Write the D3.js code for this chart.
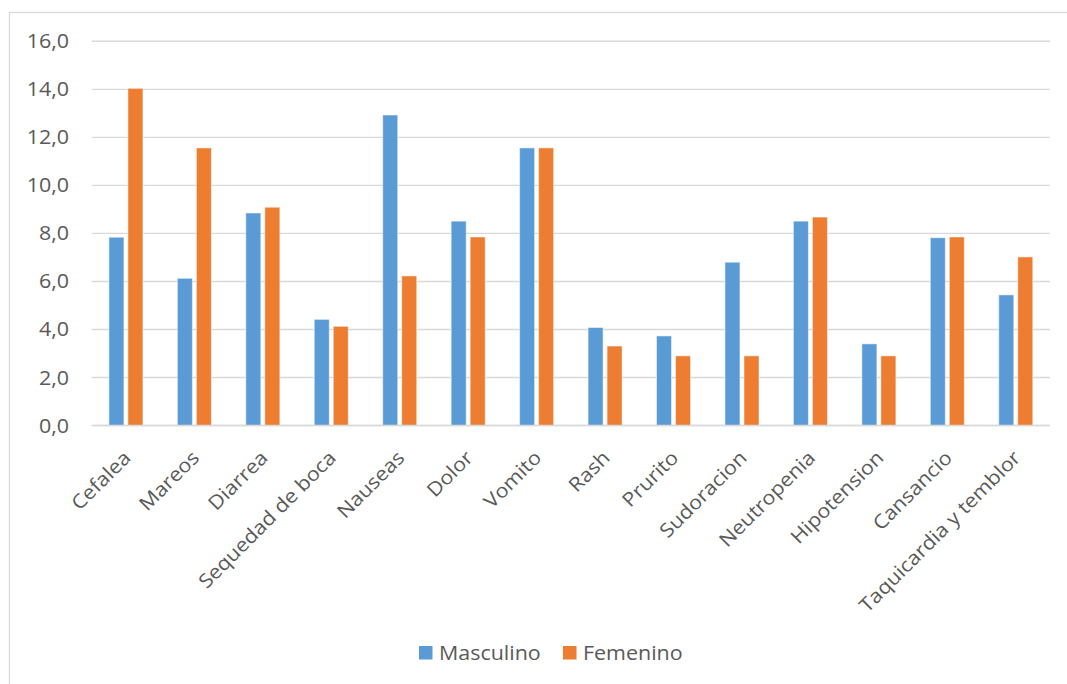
<!DOCTYPE html>
<html>
<head>
<meta charset="utf-8">
<script src="https://cdn.jsdelivr.net/npm/d3@7"></script>
<style>
  html, body { margin: 0; padding: 0; background: #fff; }
  svg { display: block; }
  text { font-family: "Open Sans", "Noto Sans", sans-serif; fill: #595959; font-size: 19.5px; }
</style>
</head>
<body>
<svg id="chart" width="1067" height="684"></svg>
<script>
// Adverse effects by sex (%)
const categories = ["Cefalea", "Mareos", "Diarrea", "Sequedad de boca", "Nauseas", "Dolor",
  "Vomito", "Rash", "Prurito", "Sudoracion", "Neutropenia", "Hipotension", "Cansancio",
  "Taquicardia y temblor"];
const seriesNames = ["Masculino", "Femenino"];
const masculino = [7.84, 6.13, 8.85, 4.42, 12.93, 8.51, 11.56, 4.08, 3.73, 6.8, 8.51, 3.4, 7.82, 5.44];
const femenino  = [14.04, 11.56, 9.09, 4.13, 6.23, 7.85, 11.56, 3.31, 2.9, 2.9, 8.68, 2.9, 7.85, 7.02];
const yTicks = [0, 2, 4, 6, 8, 10, 12, 14, 16];
const colors = ["#5B9BD5", "#ED7D31"];

// slightly wide lettering
const stretch = "scale(1.1,1)";

const svg = d3.select("#chart");

// outer chart frame
svg.append("rect")
  .attr("x", 9.5).attr("y", 12.5)
  .attr("width", 1100).attr("height", 700)
  .attr("fill", "none").attr("stroke", "#d9d9d9").attr("stroke-width", 1.3);

const plot = { left: 91.7, right: 1050, top: 41.3, bottom: 425.5 };

const y = d3.scaleLinear().domain([0, 16]).range([plot.bottom, plot.top]);
const x0 = d3.scaleBand().domain(categories).range([plot.left, plot.right]).padding(0);
const x1 = d3.scaleBand().domain(seriesNames).range([0, x0.bandwidth()])
  .paddingInner(0.21).paddingOuter(0.905);

// gridlines
svg.append("g").selectAll("line").data(yTicks).join("line")
  .attr("x1", plot.left).attr("x2", plot.right)
  .attr("y1", d => y(d)).attr("y2", d => y(d))
  .attr("stroke", "#d9d9d9").attr("stroke-width", 1.4);

// y tick labels
const fmt = v => v.toFixed(1).replace(".", ",");
svg.append("g").selectAll("text").data(yTicks).join("text")
  .attr("transform", d => `translate(69,${y(d)}) ${stretch}`)
  .attr("dy", "0.36em")
  .attr("text-anchor", "end")
  .text(fmt);

// bars
const rows = categories.map((c, i) => ({ cat: c, vals: [masculino[i], femenino[i]] }));
const groups = svg.append("g").selectAll("g").data(rows).join("g")
  .attr("transform", d => `translate(${x0(d.cat)},0)`);
groups.selectAll("rect")
  .data(d => d.vals.map((v, j) => ({ s: seriesNames[j], v, j })))
  .join("rect")
  .attr("x", d => x1(d.s))
  .attr("width", x1.bandwidth())
  .attr("y", d => y(d.v))
  .attr("height", d => y(0) - y(d.v))
  .attr("fill", d => colors[d.j])
  .attr("stroke", "#fff").attr("stroke-opacity", 0.5).attr("stroke-width", 1);

// baseline
svg.append("line")
  .attr("x1", plot.left).attr("x2", plot.right)
  .attr("y1", y(0)).attr("y2", y(0))
  .attr("stroke", "#d9d9d9").attr("stroke-width", 1.4);

// rotated category labels
svg.append("g").selectAll("text").data(categories).join("text")
  .attr("transform", d => `translate(${x0(d) + x0.bandwidth() / 2 + 6},459) rotate(-45) ${stretch}`)
  .attr("text-anchor", "end")
  .text(d => d);

// legend
const legend = svg.append("g");
const legendX = [419, 563];
seriesNames.forEach((name, i) => {
  legend.append("rect")
    .attr("x", legendX[i]).attr("y", 646)
    .attr("width", 13.5).attr("height", 13.5)
    .attr("fill", colors[i]);
  legend.append("text")
    .attr("transform", `translate(${legendX[i] + 20},659.5) ${stretch}`)
    .text(name);
});
</script>
</body>
</html>
